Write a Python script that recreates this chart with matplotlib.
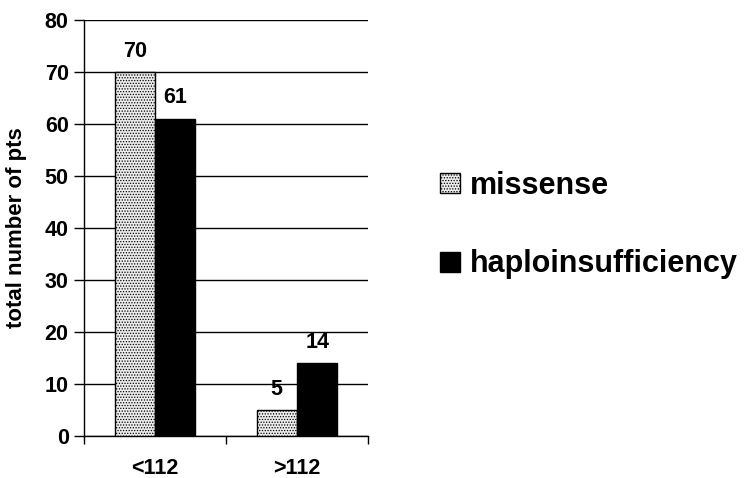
import matplotlib
matplotlib.use("Agg")
import matplotlib.pyplot as plt
import numpy as np
from matplotlib.patches import Patch

categories = ["<112", ">112"]
missense = [70, 5]
haplo = [61, 14]
series_names = ["missense", "haploinsufficiency"]
yticks = [0, 10, 20, 30, 40, 50, 60, 70, 80]

plt.rcParams['font.family'] = ['Liberation Sans', 'DejaVu Sans']
plt.rcParams['font.weight'] = 'bold'
plt.rcParams['hatch.color'] = '#9a9a9a'
plt.rcParams['hatch.linewidth'] = 0.6

fig = plt.figure(figsize=(7.48, 4.78), dpi=100)
ax = fig.add_axes([84/748, 1-436/478, 284/748, 416/478])

x = np.arange(len(categories))
w = 0.285
light = '#ececec'
b1 = ax.bar(x - w/2, missense, w, facecolor=light, edgecolor='black', hatch='......', linewidth=1, zorder=3)
b2 = ax.bar(x + w/2, haplo, w, facecolor='black', edgecolor='black', linewidth=1, zorder=3)

for rects, vals in ((b1, missense), (b2, haplo)):
    for r, v in zip(rects, vals):
        ax.text(r.get_x() + r.get_width()/2, v + 2.0, str(v), ha='center', va='bottom',
                fontsize=15.5, fontweight='bold')

ax.set_xlim(-0.5, 1.5)
ax.set_ylim(0, 80)
ax.set_yticks(yticks)
ax.set_yticklabels([str(t) for t in yticks], fontsize=15.5, fontweight='bold')
ax.yaxis.grid(True, color='black', linewidth=1, zorder=0)
ax.set_axisbelow(True)

ax.set_xticks([-0.5, 0.5, 1.5])
ax.set_xticklabels([])
ax.set_xticks([0, 1], minor=True)
ax.set_xticklabels(categories, minor=True, fontsize=15.5, fontweight='bold')
ax.tick_params(axis='x', which='minor', length=0, pad=16)
ax.tick_params(axis='x', which='major', direction='out', length=6, width=1)
ax.tick_params(axis='y', direction='out', length=7, width=1, pad=4)

for s in ['top', 'right']:
    ax.spines[s].set_visible(False)
ax.spines['left'].set_linewidth(1)
ax.spines['bottom'].set_linewidth(1)

ax.set_ylabel("total number of pts", fontsize=16, fontweight='bold')
ax.yaxis.set_label_coords(-57/284, 0.5)

handles = [Patch(facecolor=light, edgecolor='black', hatch='......'),
           Patch(facecolor='black', edgecolor='black')]
fig.legend(handles, series_names, loc='center left', bbox_to_anchor=(440/748, 1-225/478),
           frameon=False, handlelength=0.65, handleheight=0.65, borderpad=0, borderaxespad=0,
           handletextpad=0.33, labelspacing=1.6, prop={'weight': 'bold', 'size': 22})

fig.savefig("out.png", dpi=100)
